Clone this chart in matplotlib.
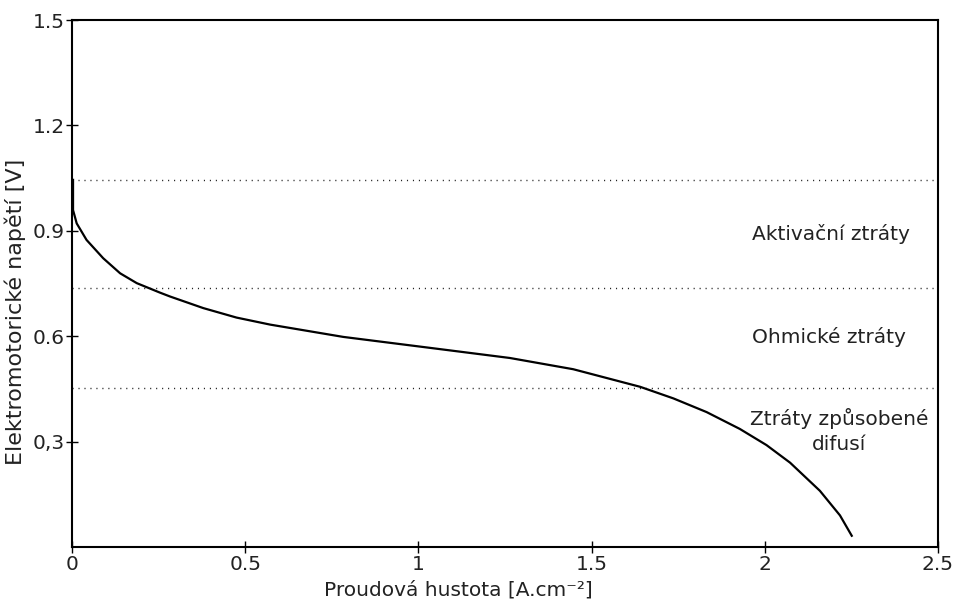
import matplotlib
matplotlib.use("Agg")
import matplotlib.pyplot as plt

plt.rcParams["font.family"] = ["DejaVu Sans"]

# polarizační křivka
proud = [0.003, 0.003, 0.0136, 0.042, 0.090, 0.139, 0.187, 0.254, 0.283, 0.379,
         0.475, 0.572, 0.783, 1.024, 1.264, 1.447, 1.640, 1.736, 1.832, 1.928,
         2.005, 2.073, 2.159, 2.217, 2.251]
napeti = [1.045, 0.959, 0.921, 0.874, 0.822, 0.779, 0.751, 0.724, 0.713, 0.680,
          0.653, 0.633, 0.598, 0.568, 0.538, 0.506, 0.456, 0.423, 0.384, 0.336,
          0.290, 0.240, 0.160, 0.090, 0.032]

hranice = [1.045, 0.738, 0.453]
popisky = ["Aktivační ztráty", "Ohmické ztráty", "Ztráty způsobené\ndifusí"]

xticks = [0, 0.5, 1, 1.5, 2, 2.5]
xtick_labels = ["0", "0.5", "1", "1.5", "2", "2.5"]
yticks = [0.3, 0.6, 0.9, 1.2, 1.5]
ytick_labels = ["0,3", "0.6", "0.9", "1.2", "1.5"]

# umístění popisků pásem
popisky_x = [2.19, 2.185, 2.215]
popisky_y = [0.892, 0.597, 0.330]

fig = plt.figure(figsize=(9.54, 6.09), dpi=100)
ax = fig.add_axes([72/954, 1 - 547/609, 866/954, 527/609])

for h in hranice:
    ax.axhline(h, color="#222222", lw=1.0, linestyle=(0, (0.8, 3.5)))

ax.plot(proud, napeti, color="black", lw=1.6, solid_joinstyle="round")

for txt, xx, yy in zip(popisky, popisky_x, popisky_y):
    ax.text(xx, yy, txt, ha="center", va="center", fontsize=14.5,
            color="#222222", linespacing=1.35)

ax.set_xlim(0, 2.5)
ax.set_ylim(0, 1.5)
ax.set_xticks(xticks)
ax.set_xticklabels(xtick_labels)
ax.set_yticks(yticks)
ax.set_yticklabels(ytick_labels)
ax.tick_params(direction="inout", length=8, width=1, labelsize=14.5,
               labelcolor="#222222", pad=1)
ax.tick_params(axis="x", pad=2)
for s in ax.spines.values():
    s.set_linewidth(1.5)

fig.text(458/954, 1 - 590/609, "Proudová hustota [A.cm⁻²]", ha="center",
         va="center", fontsize=14.5, color="#222222")
fig.text(15/954, 1 - 312/609, "Elektromotorické napětí [V]", ha="center",
         va="center", rotation=90, fontsize=16, color="#222222")

fig.savefig("out.png", dpi=100)
